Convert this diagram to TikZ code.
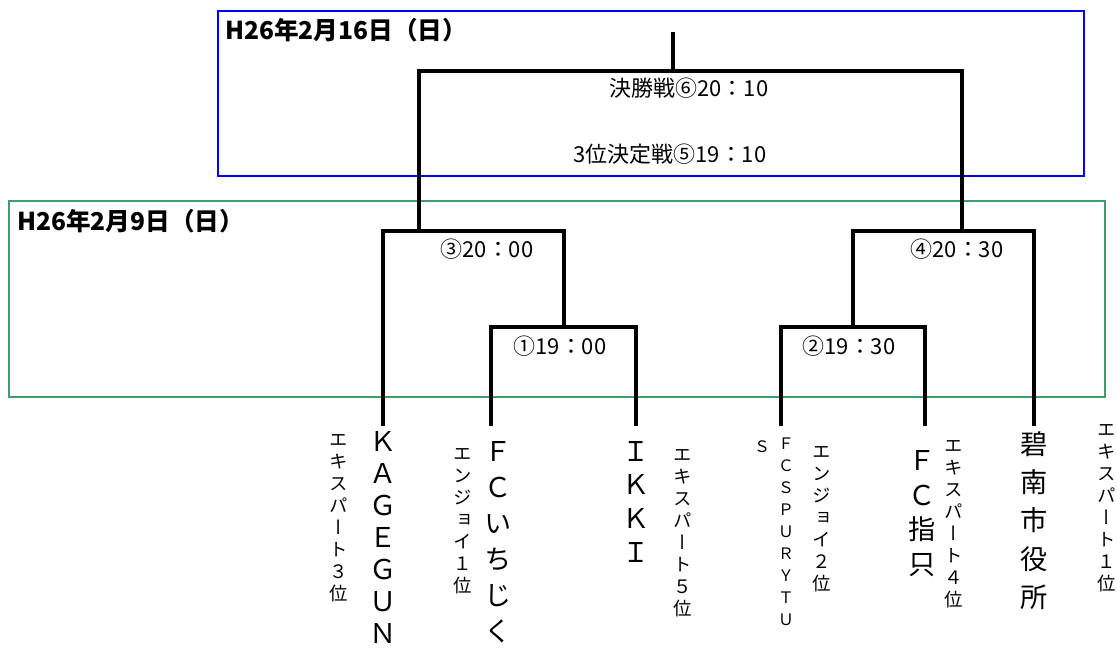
\documentclass[tikz,border=0pt]{standalone}
\usepackage{fontspec}
\setmainfont{Noto Sans CJK JP}
\newfontfamily\tate[RawFeature=+vert]{Noto Sans CJK JP}
\definecolor{daygreen}{RGB}{60,160,110}

\begin{document}
\begin{tikzpicture}[x=0.02cm, y=-0.02cm,
    bracket/.style={line width=2.6pt, line join=miter},
    daybox/.style={line width=1.7pt},
    datetext/.style={anchor=west, inner sep=0pt, font=\fontsize{14}{16}\selectfont\bfseries},
    timetext/.style={inner sep=0pt, font=\fontsize{12.5}{14}\selectfont},
    team/.style={anchor=north, inner sep=0pt, align=center, font=\tate\fontsize{15.5}{#1}\selectfont},
    smallteam/.style={anchor=north, inner sep=0pt, align=center, font=\tate\fontsize{9}{12.5}\selectfont},
    rank/.style={anchor=north, inner sep=0pt, align=center, font=\tate\fontsize{10.5}{12.5}\selectfont}]
    \useasboundingbox (0,0) rectangle (1117,648);

    % Day boxes
    \draw[daybox, blue] (218,11) rectangle (1084,176);
    \draw[daybox, daygreen] (9,201) rectangle (1105,397);
    \node[datetext] (day2) at (225,30) {H26年2月16日（日）};
    \node[datetext] (day1) at (17,221) {H26年2月9日（日）};

    % Line ends
    \coordinate (kag)  at (383,426);
    \coordinate (ichi) at (491,426);
    \coordinate (ikki) at (636,426);
    \coordinate (spur) at (781,426);
    \coordinate (shi)  at (925,426);
    \coordinate (heki) at (1034,426);

    % Match points
    \coordinate (m1)  at (564,327);
    \coordinate (m2)  at (853,327);
    \coordinate (m3)  at (419,231);
    \coordinate (m4)  at (962,231);
    \coordinate (fin) at (673,71);
    \coordinate (top) at (673,32);

    % Bracket
    \draw[bracket] (ichi) |- (m1) -| (ikki);
    \draw[bracket] (spur) |- (m2) -| (shi);
    \draw[bracket] (kag) |- (m3) -| (m1);
    \draw[bracket] (m2) |- (m4) -| (heki);
    \draw[bracket] (m3) |- (fin) -| (m4);
    \draw[bracket] (fin) -- (top);

    % Match times
    \node[timetext] (final) at (689,88) {決勝戦⑥20：10};
    \node[timetext] (third) at (670,154) {3位決定戦⑤19：10};
    \node[timetext] (g3) at (487,249) {③20：00};
    \node[timetext] (g4) at (957,249) {④20：30};
    \node[timetext] (g1) at (560,346) {①19：00};
    \node[timetext] (g2) at (849,346) {②19：30};

    % Teams
    \node[team=18.2] (n-kag) at (383,431) {Ｋ\\Ａ\\Ｇ\\Ｅ\\Ｇ\\Ｕ\\Ｎ};
    \node[team=20.5] (n-ichi) at (498,441) {Ｆ\\Ｃ\\い\\ち\\じ\\く};
    \node[team=19.1] (n-ikki) at (636,441) {Ｉ\\Ｋ\\Ｋ\\Ｉ};
    \node[smallteam] (n-spur) at (786,438) {Ｆ\\Ｃ\\Ｓ\\Ｐ\\Ｕ\\Ｒ\\Ｙ\\Ｔ\\Ｕ};
    \node[smallteam] (n-spur2) at (762,440) {Ｓ};
    \node[team=19.8] (n-shi) at (922,450) {Ｆ\\Ｃ\\指\\只};
    \node[team=21.8] (n-heki) at (1034,431) {碧\\南\\市\\役\\所};

    % Ranks
    \node[rank] (r-kag) at (339,434) {エ\\キ\\ス\\パ\\ー\\ト\\３\\位};
    \node[rank] (r-ichi) at (463,448) {エ\\ン\\ジ\\ョ\\イ\\１\\位};
    \node[rank] (r-ikki) at (683,449) {エ\\キ\\ス\\パ\\ー\\ト\\５\\位};
    \node[rank] (r-spur) at (822,446) {エ\\ン\\ジ\\ョ\\イ\\２\\位};
    \node[rank] (r-shi) at (954,440) {エ\\キ\\ス\\パ\\ー\\ト\\４\\位};
    \node[rank] (r-heki) at (1107,424) {エ\\キ\\ス\\パ\\ー\\ト\\１\\位};
\end{tikzpicture}
\end{document}
